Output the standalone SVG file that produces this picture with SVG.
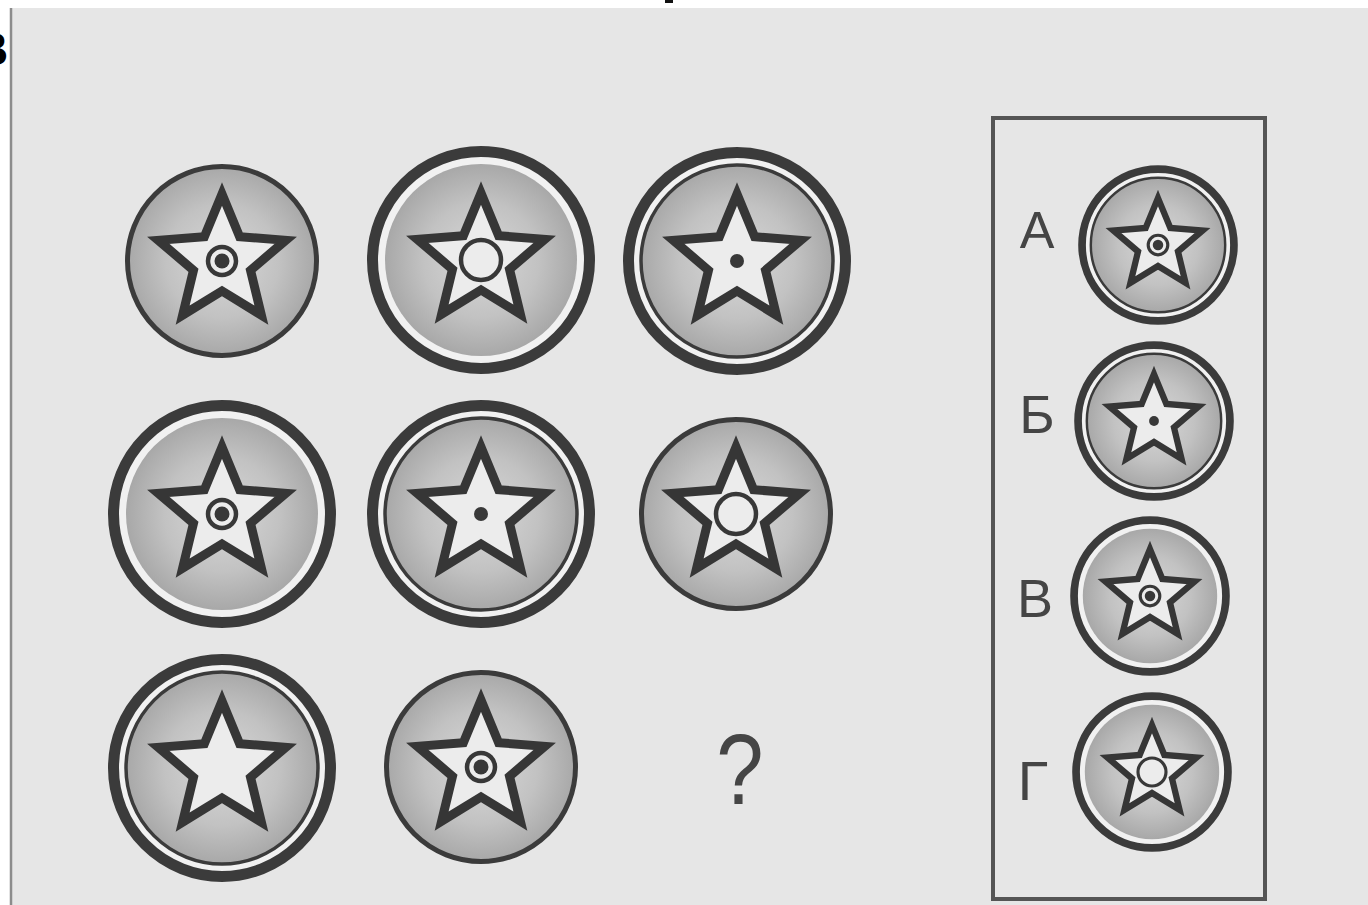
<svg xmlns="http://www.w3.org/2000/svg" xmlns:xlink="http://www.w3.org/1999/xlink" width="1368" height="905" viewBox="0 0 1368 905">
<defs>
<style>
.lbl{font-family:"Liberation Sans",Arial,sans-serif;fill:#454545}
</style>
<radialGradient id="g" cx="0.5" cy="0.5" r="0.5">
<stop offset="0" stop-color="#d8d8d8"/>
<stop offset="0.6" stop-color="#c2c2c2"/>
<stop offset="1" stop-color="#a8a8a8"/>
</radialGradient>
<path id="star" fill="#ececec" stroke="#363636" stroke-width="9" stroke-linejoin="miter" stroke-miterlimit="6" d="M0,-67 L17.63,-24.27 L63.72,-20.7 L28.53,9.27 L39.38,54.2 L0,30 L-39.38,54.2 L-28.53,9.27 L-63.72,-20.7 L-17.63,-24.27 Z"/>
<g id="mTarget"><circle r="14" fill="none" stroke="#383838" stroke-width="4.5"/><circle r="7.5" fill="#383838"/></g>
<circle id="mRing" r="20" fill="none" stroke="#383838" stroke-width="4.5"/>
<circle id="mDot" r="7" fill="#383838"/>
<g id="single"><circle r="94.5" fill="url(#g)" stroke="#3b3b3b" stroke-width="5"/></g>
<g id="dbl"><circle r="108.5" fill="#f1f1f1" stroke="#3b3b3b" stroke-width="11"/><circle r="96" fill="url(#g)"/></g>
<g id="dblLine"><circle r="108.5" fill="#f1f1f1" stroke="#3b3b3b" stroke-width="11"/><circle r="96" fill="url(#g)" stroke="#3b3b3b" stroke-width="3.5"/></g>
</defs>

<rect width="1368" height="905" fill="#ffffff"/>
<rect x="10" y="8" width="1358" height="897" fill="#e6e6e6"/>
<line x1="11" y1="8" x2="11" y2="905" stroke="#8c8c8c" stroke-width="2.5"/>
<text x="-25" y="65" font-family="Liberation Sans,Arial,sans-serif" font-size="46" font-weight="bold" fill="#000">В</text>
<rect x="665" y="0" width="8" height="3" fill="#111"/>

<g id="connectors"/>

<g id="c1" transform="translate(222,261)"><use xlink:href="#single"/><use xlink:href="#star"/><use xlink:href="#mTarget"/></g>
<g id="c2" transform="translate(481,260)"><use xlink:href="#dbl"/><use xlink:href="#star"/><use xlink:href="#mRing"/></g>
<g id="c3" transform="translate(737,261)"><use xlink:href="#dblLine"/><use xlink:href="#star"/><use xlink:href="#mDot"/></g>
<g id="c4" transform="translate(222,514)"><use xlink:href="#dbl"/><use xlink:href="#star"/><use xlink:href="#mTarget"/></g>
<g id="c5" transform="translate(481,514)"><use xlink:href="#dblLine"/><use xlink:href="#star"/><use xlink:href="#mDot"/></g>
<g id="c6" transform="translate(736,514)"><use xlink:href="#single"/><use xlink:href="#star"/><use xlink:href="#mRing"/></g>
<g id="c7" transform="translate(222,768)"><use xlink:href="#dblLine"/><use xlink:href="#star"/></g>
<g id="c8" transform="translate(481,767)"><use xlink:href="#single"/><use xlink:href="#star"/><use xlink:href="#mTarget"/></g>
<g id="question"><text class="lbl" x="740" y="804" font-size="100" text-anchor="middle" transform="translate(740,0) scale(0.85,1) translate(-740,0)">?</text></g>

<g id="panel">
<rect x="993" y="118" width="272" height="781" fill="none" stroke="#555" stroke-width="4"/>
</g>
<g id="optA"><text class="lbl" x="1037" y="248" font-size="52" text-anchor="middle">А</text>
<g transform="translate(1158,245) scale(0.7)"><use xlink:href="#dblLine"/><use xlink:href="#star"/><use xlink:href="#mTarget"/></g></g>
<g id="optB"><text class="lbl" x="1037" y="433" font-size="54" text-anchor="middle">Б</text>
<g transform="translate(1154,421) scale(0.7)"><use xlink:href="#dblLine"/><use xlink:href="#star"/><use xlink:href="#mDot"/></g></g>
<g id="optV"><text class="lbl" x="1035" y="617" font-size="54" text-anchor="middle">В</text>
<g transform="translate(1150,596) scale(0.7)"><use xlink:href="#dbl"/><use xlink:href="#star"/><use xlink:href="#mTarget"/></g></g>
<g id="optG"><text class="lbl" x="1033" y="800" font-size="56" text-anchor="middle">Г</text>
<g transform="translate(1152,772) scale(0.7)"><use xlink:href="#dbl"/><use xlink:href="#star"/><use xlink:href="#mRing"/></g></g>
</svg>
